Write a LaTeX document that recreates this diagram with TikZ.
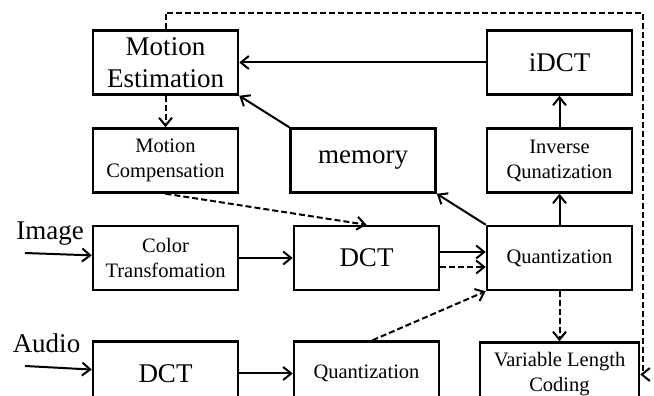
\documentclass[tikz,border=0pt]{standalone}
\usepackage{fontspec}
\setmainfont{Liberation Serif}
\usetikzlibrary{arrows.meta,positioning}

\begin{document}
\begin{tikzpicture}[
  x=1pt, y=1pt,
  node distance=31pt and 50pt,
  blk/.style={rectangle, draw, line width=2.5pt, align=center, minimum width=145pt, minimum height=64pt, inner sep=2pt},
  big/.style={blk, font=\fontsize{27}{32}\selectfont},
  small/.style={blk, font=\fontsize{20.5}{25}\selectfont},
  lbl/.style={font=\fontsize{27}{32}\selectfont, anchor=base, inner sep=0pt},
  arrow/.style={-{Straight Barb[length=8pt,width=13pt]}, line width=2pt},
  dasharrow/.style={arrow, dash pattern=on 6pt off 3pt}
]
\useasboundingbox (0,0) rectangle (654,396);
\clip (0,0) rectangle (654,396);
\node[big] (me) at (165.5,333.5) {Motion\\Estimation};
\node[small, below=31.5pt of me] (mc) {Motion\\Compensation};
\node[small, below=31pt of mc] (ct) {Color\\Transfomation};
\node[big, below=49pt of ct] (adct) {DCT};
\node[big, right=50pt of mc] (mem) {memory};
\node[big, right=53.5pt of ct] (dct) {DCT};
\node[small, right=53.5pt of adct] (aq) {Quantization};
\node[small, right=45.5pt of dct] (quant) {Quantization};
\node[small, above=31pt of quant] (iq) {Inverse\\Qunatization};
\node[big, above=31.5pt of iq] (idct) {iDCT};
\node[small, below=50pt of quant, minimum width=159pt] (vlc) {Variable Length\\Coding};
\coordinate (imgin) at (25,143);
\coordinate (audin) at (25,30);
\coordinate (fb) at (643,383);
\node[lbl] (imglbl) at (50,156) {Image};
\node[lbl] (audlbl) at (46.5,43) {Audio};
\draw[arrow] (idct) -- (me);
\draw[arrow] (mem.north west) -- (me.south east);
\draw[dasharrow] (me) -- (mc);
\draw[dasharrow] (mc.south) -- (dct.north);
\draw[arrow] (imgin) -- (ct);
\draw[arrow] (ct) -- (dct);
\draw[arrow] ([yshift=6pt]dct.east) -- ([yshift=6pt]quant.west);
\draw[dasharrow] ([yshift=-9pt]dct.east) -- ([yshift=-9pt]quant.west);
\draw[arrow] (quant.north west) -- (mem.south east);
\draw[arrow] (quant) -- (iq);
\draw[arrow] (iq) -- (idct);
\draw[dasharrow] (quant) -- (vlc);
\draw[dasharrow] ([xshift=6pt]aq.north) -- (quant.south west);
\draw[arrow] (audin) -- (adct);
\draw[arrow] (adct) -- (aq);
\draw[dasharrow] (me.north) |- (fb) |- (vlc.east);
\end{tikzpicture}
\end{document}
